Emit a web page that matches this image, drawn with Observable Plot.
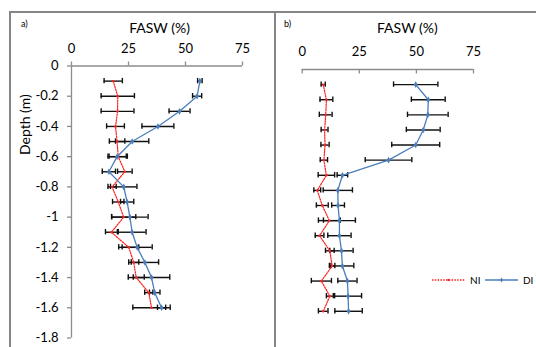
<!DOCTYPE html>
<html>
<head>
<meta charset="utf-8">
<script src="https://cdn.jsdelivr.net/npm/d3@7"></script>
<script src="https://cdn.jsdelivr.net/npm/@observablehq/plot@0.6"></script>
<style>
  html, body { margin: 0; padding: 0; background: #fff; }
  #fig { position: relative; width: 536px; height: 347px; overflow: hidden; background: #fff; font-family: Lato, "Open Sans", sans-serif; }
  #fig > * { position: absolute; }
  .box { border: 2px solid #858585; box-sizing: border-box; }
</style>
</head>
<body>
<div id="fig"></div>
<script>
// ---- data ----
const depth = [-0.1, -0.2, -0.3, -0.4, -0.5, -0.6, -0.7, -0.8, -0.9, -1.0, -1.1, -1.2, -1.3, -1.4, -1.5, -1.6];

// panel a)
const aNI    = [18.3, 20.3, 20.2, 19.3, 20.0, 20.5, 23.4, 17.8, 20.5, 22.9, 17.5, 25.1, 27.3, 28.4, 33.9, 35.1];
const aNIerr = [4.0, 7.3, 7.2, 3.9, 3.4, 4.0, 3.2, 1.8, 2.5, 5.3, 2.6, 4.4, 2.2, 3.5, 1.8, 8.2];
const aDI    = [56.3, 55.1, 47.4, 37.9, 26.6, 20.0, 16.4, 22.9, 24.4, 25.6, 26.6, 28.8, 32.2, 35.1, 36.5, 39.5];
const aDIerr = [1.0, 2.0, 4.6, 7.0, 7.3, 4.0, 2.9, 5.8, 2.9, 8.0, 6.1, 6.6, 6.0, 8.0, 2.3, 1.8];

// panel b)
const bNI    = [9.2, 10.6, 10.3, 9.8, 10.0, 9.5, 10.6, 6.6, 8.8, 11.9, 7.6, 12.1, 13.1, 8.4, 12.1, 9.2];
const bNIerr = [0.9, 2.8, 2.8, 1.5, 1.8, 1.6, 3.6, 1.5, 2.6, 4.8, 1.9, 1.9, 1.2, 4.4, 1.5, 2.1];
const bDI    = [49.7, 55.2, 55.0, 53.0, 49.7, 37.8, 17.6, 15.6, 15.7, 16.3, 16.3, 17.2, 17.6, 19.8, 20.1, 20.3];
const bDIerr = [9.7, 7.4, 8.9, 7.4, 10.5, 10.2, 2.3, 6.4, 2.8, 7.0, 5.1, 5.1, 5.0, 4.2, 5.9, 6.0];

const xTicks = [0, 25, 50, 75];
const yTicks = [0, -0.2, -0.4, -0.6, -0.8, -1, -1.2, -1.4, -1.6, -1.8];
const seriesNames = ["NI", "DI"];
const xTitle = "FASW (%)";
const yTitle = "Depth (m)";
const panelLabels = ["a)", "b)"];

// ---- styles ----
const NI_COLOR = "#ff2020";
const DI_COLOR = "#4a7ebb";
const AXIS_COLOR = "#8c8c8c";
const FONT = "Lato, 'Open Sans', sans-serif";
const NI_DASH = "1.5,1.3";

const fig = document.getElementById("fig");

function rowsOf(ni, niErr, di, diErr) {
  return depth.map((d, i) => ({depth: d, ni: ni[i], niErr: niErr[i], di: di[i], diErr: diErr[i]}));
}

function seriesMarks(rows) {
  const marks = [];
  for (const [v, e] of [["ni", "niErr"], ["di", "diErr"]]) {
    const lo = d => d[v] - d[e];
    const hi = d => d[v] + d[e];
    marks.push(Plot.ruleY(rows, {y: "depth", x1: lo, x2: hi, stroke: "#111", strokeWidth: 1.4}));
    marks.push(Plot.ruleX(rows, {x: lo, y1: "depth", y2: "depth", insetTop: -2.7, insetBottom: -2.7, stroke: "#111", strokeWidth: 1.4}));
    marks.push(Plot.ruleX(rows, {x: hi, y1: "depth", y2: "depth", insetTop: -2.7, insetBottom: -2.7, stroke: "#111", strokeWidth: 1.4}));
  }
  marks.push(Plot.line(rows, {x: "ni", y: "depth", stroke: NI_COLOR, strokeWidth: 1.2, strokeDasharray: NI_DASH}));
  marks.push(Plot.line(rows, {x: "di", y: "depth", stroke: DI_COLOR, strokeWidth: 1.3}));
  marks.push(Plot.dot(rows, {x: "ni", y: "depth", r: 1.2, fill: NI_COLOR, stroke: "none"}));
  marks.push(Plot.dot(rows, {x: "di", y: "depth", symbol: "diamond", r: 2, fill: DI_COLOR, stroke: "none"}));
  return marks;
}

const yFmt = d => String(Math.round(d * 10) / 10);

// ---- panel a ----
const plotA = Plot.plot({
  width: 275, height: 347,
  marginLeft: 71, marginRight: 33, marginTop: 65.5, marginBottom: 9.5,
  x: {domain: [xTicks[0], xTicks[xTicks.length - 1]], axis: null},
  y: {domain: [yTicks[yTicks.length - 1], yTicks[0]], axis: null},
  style: {background: "transparent", fontFamily: FONT, color: "#000", overflow: "visible"},
  marks: [
    Plot.ruleY([0], {x1: xTicks[0], x2: xTicks[xTicks.length - 1], stroke: AXIS_COLOR, strokeWidth: 1.3}),
    Plot.ruleX(xTicks, {x: d => d, y1: 0, y2: 0, insetTop: -4, stroke: AXIS_COLOR, strokeWidth: 1.3}),
    Plot.ruleX([0], {y1: yTicks[yTicks.length - 1], y2: yTicks[0], stroke: AXIS_COLOR, strokeWidth: 1.3}),
    Plot.ruleY(yTicks, {y: d => d, x1: 0, x2: 0, insetLeft: -4, stroke: AXIS_COLOR, strokeWidth: 1.3}),
    Plot.axisX(xTicks, {anchor: "top", tickSize: 0, tickPadding: 13, fontSize: 13, label: null}),
    Plot.axisY(yTicks, {anchor: "left", tickSize: 0, tickPadding: 13, fontSize: 13, tickFormat: yFmt, label: null}),
    Plot.text([xTitle], {frameAnchor: "top", dx: 2.5, dy: -37.5, fontSize: 14, lineAnchor: "middle"}),
    Plot.text([yTitle], {frameAnchor: "left", dx: -46, dy: -47, rotate: -90, fontSize: 14, lineAnchor: "middle"}),
    ...seriesMarks(rowsOf(aNI, aNIerr, aDI, aDIerr))
  ]
});
plotA.style.left = "0px"; plotA.style.top = "0px";

// ---- panel b ----
const plotB = Plot.plot({
  width: 261, height: 347,
  marginLeft: 26.7, marginRight: 63, marginTop: 69, marginBottom: 6,
  x: {domain: [xTicks[0], xTicks[xTicks.length - 1]], axis: null},
  y: {domain: [yTicks[yTicks.length - 1], yTicks[0]], axis: null},
  style: {background: "transparent", fontFamily: FONT, color: "#000", overflow: "visible"},
  marks: [
    Plot.ruleY([0], {x1: xTicks[0], x2: xTicks[xTicks.length - 1], stroke: AXIS_COLOR, strokeWidth: 1.3}),
    Plot.ruleX(xTicks, {x: d => d, y1: 0, y2: 0, insetBottom: -4.5, stroke: AXIS_COLOR, strokeWidth: 1.3}),
    Plot.axisX(xTicks, {anchor: "top", tickSize: 0, tickPadding: 14, fontSize: 13, label: null}),
    Plot.text([xTitle], {frameAnchor: "top", dx: 19.5, dy: -40.5, fontSize: 14, lineAnchor: "middle"}),
    ...seriesMarks(rowsOf(bNI, bNIerr, bDI, bDIerr))
  ]
});
plotB.style.left = "275px"; plotB.style.top = "0px";

// ---- frames ----
const boxA = document.createElement("div");
boxA.className = "box";
Object.assign(boxA.style, {left: "9px", top: "11px", width: "267px", height: "350px"});
const lineB = document.createElement("div");
Object.assign(lineB.style, {left: "275px", top: "11px", width: "270px", height: "0px", borderTop: "2px solid #858585"});
fig.append(boxA, lineB, plotA, plotB);

// ---- panel letters ----
panelLabels.forEach((t, i) => {
  const el = document.createElement("div");
  el.textContent = t;
  Object.assign(el.style, {left: i === 0 ? "21px" : "284px", top: "18px", fontSize: "9px", fontFamily: FONT, lineHeight: "12px"});
  fig.append(el);
});

// ---- legend ----
const leg = d3.create("svg").attr("width", 110).attr("height", 16)
  .style("left", "430px").style("top", "272px").style("font-family", FONT).style("font-size", "10px");
const items = [
  {name: seriesNames[0], color: NI_COLOR, dash: NI_DASH, symbol: d3.symbolCircle, size: 4},
  {name: seriesNames[1], color: DI_COLOR, dash: null, symbol: d3.symbolDiamond, size: 7}
];
items.forEach((it, i) => {
  const g = leg.append("g").attr("transform", `translate(${2 + i * 53},8)`);
  g.append("line").attr("x1", 0).attr("x2", 33).attr("stroke", it.color).attr("stroke-width", 1.3)
    .attr("stroke-dasharray", it.dash);
  g.append("path").attr("d", d3.symbol(it.symbol, it.size)()).attr("transform", "translate(16.5,0)").attr("fill", it.color);
  g.append("text").attr("x", 38).attr("y", 0).attr("dy", "0.35em").text(it.name);
});
fig.append(leg.node());
</script>
</body>
</html>
